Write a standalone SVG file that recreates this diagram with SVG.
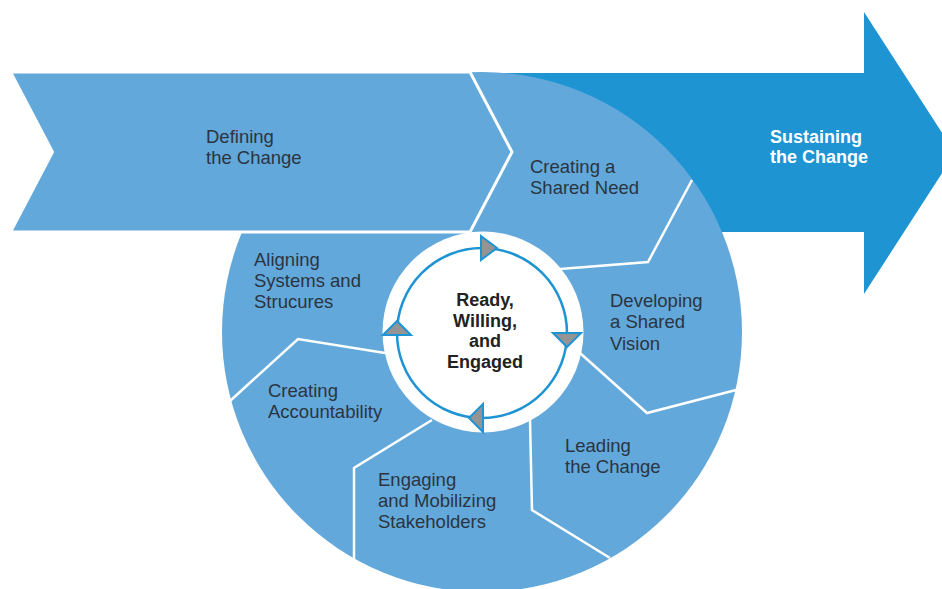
<svg xmlns="http://www.w3.org/2000/svg" width="942" height="589" viewBox="0 0 942 589">
<style>
.lbl{font-family:"Liberation Sans",Arial,sans-serif;font-size:18.5px;fill:#2b3541}
.sus{font-family:"Liberation Sans",Arial,sans-serif;font-size:18px;font-weight:bold;fill:#ffffff}
.ctr{font-family:"Liberation Sans",Arial,sans-serif;font-size:18px;font-weight:bold;fill:#222222;text-anchor:middle}
.div{fill:none;stroke:#ffffff;stroke-width:2.5;stroke-linejoin:miter}
.tri{fill:#949494;stroke:#1e94d2;stroke-width:2;stroke-linejoin:miter}
</style>
<rect width="942" height="589" fill="#ffffff"/>
<g id="sustaining">
<polygon points="470,73 864,73 864,12 955,153 864,294 864,232 470,232" fill="#1e94d2"/>
<text class="sus"><tspan x="770" y="143">Sustaining</tspan><tspan x="770" y="163">the Change</tspan></text>
</g>
<g id="wheel">
<circle cx="482" cy="332" r="260" fill="#62a8da"/>
</g>
<g id="defining">
<polygon points="10.5,72 470,72 512,152 470,232 10.5,232 52.5,152" fill="#62a8da" stroke="#ffffff" stroke-width="3"/>
<text class="lbl"><tspan x="206" y="143">Defining</tspan><tspan x="206" y="164">the Change</tspan></text>
</g>
<g id="connectors">
<polyline class="div" points="560,269 648,262 692,180"/>
<polyline class="div" points="580,353 647,413 736,390"/>
<polyline class="div" points="530,420 532,510 610,558"/>
<polyline class="div" points="432,420 354,468 354,560"/>
<polyline class="div" points="385,353 298,339 230,401"/>
</g>
<g id="shared-need"><text class="lbl"><tspan x="530" y="173">Creating a</tspan><tspan x="530" y="194">Shared Need</tspan></text></g>
<g id="shared-vision"><text class="lbl"><tspan x="610" y="307">Developing</tspan><tspan x="610" y="328">a Shared</tspan><tspan x="610" y="350">Vision</tspan></text></g>
<g id="leading"><text class="lbl"><tspan x="565" y="452">Leading</tspan><tspan x="565" y="473">the Change</tspan></text></g>
<g id="engaging"><text class="lbl"><tspan x="378" y="486">Engaging</tspan><tspan x="378" y="507">and Mobilizing</tspan><tspan x="378" y="528">Stakeholders</tspan></text></g>
<g id="accountability"><text class="lbl"><tspan x="268" y="397">Creating</tspan><tspan x="268" y="418">Accountability</tspan></text></g>
<g id="aligning"><text class="lbl"><tspan x="254" y="266">Aligning</tspan><tspan x="254" y="287">Systems and</tspan><tspan x="254" y="308">Strucures</tspan></text></g>
<g id="center">
<circle cx="483" cy="332" r="100.5" fill="#ffffff"/>
<circle cx="482" cy="333" r="85" fill="none" stroke="#1e94d2" stroke-width="2.5"/>
<polygon class="tri" points="481,236 497,248 481,260"/>
<polygon class="tri" points="553,333 581,333 567,347"/>
<polygon class="tri" points="483,404 469,418 483,432"/>
<polygon class="tri" points="383,335 397,321 411,335"/>
<text class="ctr"><tspan x="485" y="306">Ready,</tspan><tspan x="485" y="327">Willing,</tspan><tspan x="485" y="347">and</tspan><tspan x="485" y="368">Engaged</tspan></text>
</g>
</svg>
